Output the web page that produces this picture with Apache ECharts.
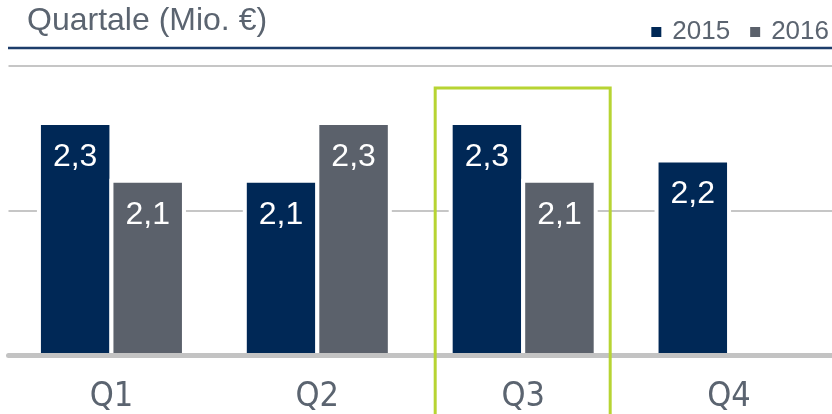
<html>
<head>
	<meta charset="utf-8">
	<title>Quartale</title>
	<script src="https://cdn.jsdelivr.net/npm/echarts@6/dist/echarts.min.js"></script>
	<style type="text/css">
		html, body { margin: 0; padding: 0; background: #fff; }
	</style>
</head>
<body>
	<div id="eCharts-container" style="width:832px;height:414px"></div>
<script type="text/javascript">
	// Daten (Mio. €)
	var categories = ['Q1', 'Q2', 'Q3', 'Q4'];
	var seriesNames = ['2015', '2016'];
	var values2015 = [2.31, 2.11, 2.31, 2.18];
	var values2016 = [2.11, 2.31, 2.11, null];
	var highlighted = 'Q3';

	var textColor = '#5b6470';
	var labelFont = "'Liberation Sans', Arial, sans-serif";

	var myChart = echarts.init(document.getElementById('eCharts-container'));

	function valueLabel(p) {
		return p.value.toFixed(1).replace('.', ',');
	}

	// weißer Rand unterbricht die Gitterlinie neben den Balken
	var barStyle = function (color) {
		return { color: color, borderColor: '#ffffff', borderWidth: 4 };
	};

	var option = {
		animation: false,
		title: {
			text: 'Quartale (Mio. €)',
			left: 22, top: 0,
			textStyle: { fontFamily: labelFont, fontSize: 32, fontWeight: 'normal', color: textColor }
		},
		legend: {
			data: seriesNames,
			right: -2, top: 14,
			icon: 'rect', itemWidth: 12, itemHeight: 12, itemGap: 18,
			textStyle: { fontFamily: labelFont, fontSize: 26, color: textColor, padding: [0, 0, 0, 5] }
		},
		grid: { left: 8.5, right: -4, top: 66, bottom: 56.5 },
		xAxis: {
			type: 'category',
			data: categories,
			z: 5,
			axisLine: { lineStyle: { color: '#c3c3c3', width: 5 } },
			axisTick: { show: false },
			axisLabel: {
				margin: 25,
				fontFamily: "'Liberation Sans Narrow', 'DejaVu Sans Condensed', sans-serif",
				fontSize: 34, color: textColor
			}
		},
		yAxis: {
			type: 'value',
			min: 1.5, max: 2.5, interval: 0.5,
			axisLine: { show: false },
			axisTick: { show: false },
			axisLabel: { show: false },
			splitLine: { lineStyle: { color: '#c6c6c6', width: 2 } }
		},
		series: [
			{
				name: seriesNames[0], type: 'bar', data: values2015,
				barWidth: 76.5, barGap: '-5.2%',
				itemStyle: barStyle('#002856'),
				label: { show: true, position: 'insideTop', distance: 20, formatter: valueLabel,
					fontFamily: labelFont, fontSize: 32, color: '#ffffff' }
			},
			{
				name: seriesNames[1], type: 'bar', data: values2016,
				barWidth: 76.5, barGap: '-5.2%',
				itemStyle: barStyle('#5b616b'),
				label: { show: true, position: 'insideTop', distance: 20, formatter: valueLabel,
					fontFamily: labelFont, fontSize: 32, color: '#ffffff' }
			}
		]
	};
	myChart.setOption(option);

	// Linie unter der Überschrift und Markierung des aktuellen Quartals
	var cx = myChart.convertToPixel({ xAxisIndex: 0 }, highlighted);
	myChart.setOption({
		graphic: [
			{ type: 'line', shape: { x1: 8, y1: 48, x2: 832, y2: 48 },
				style: { stroke: '#1d3d6b', lineWidth: 2.5 } },
			{ type: 'rect', z: 10, shape: { x: cx - 88, y: 88, width: 175, height: 400 },
				style: { fill: 'none', stroke: '#b7d433', lineWidth: 3 } }
		]
	});
</script>
</body>
</html>
